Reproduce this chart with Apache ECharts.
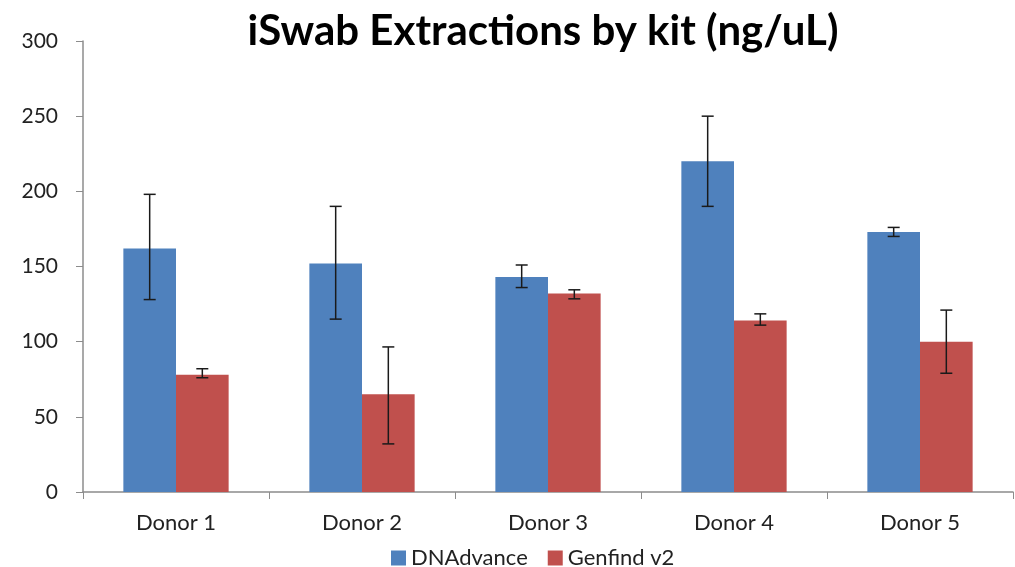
<!DOCTYPE html>
<html>
<head>
<meta charset="utf-8">
<script src="https://cdn.jsdelivr.net/npm/echarts@6/dist/echarts.min.js"></script>
<style>
  html, body { margin: 0; padding: 0; background: #fff; }
  #main { width: 1015px; height: 567px; }
</style>
</head>
<body>
<div id="main"></div>
<script>
var donors = ['Donor 1', 'Donor 2', 'Donor 3', 'Donor 4', 'Donor 5'];
var dnaAdvance = [162, 152, 143, 220, 173];
var dnaAdvanceLow = [128, 115, 136, 190, 170];
var dnaAdvanceHigh = [198, 190, 151, 250, 176];
var genfind = [78, 65, 132, 114, 100];
var genfindLow = [76, 32, 128.5, 111, 79];
var genfindHigh = [82, 96.5, 134.5, 118.5, 121];

var BAR_RATIO = 0.283;
var FONT = 'Lato';

var Chart = echarts.init(document.getElementById('main'));

// error bar drawn at the centre of the bar of one series
function errorBars(low, high, side) {
  var data = low.map(function (l, i) { return [i, l, high[i]]; });
  return {
    type: 'custom',
    name: 'err' + side,
    z: 10,
    silent: true,
    data: data,
    renderItem: function (params, api) {
      var band = api.size([1, 0])[0];
      var off = side * band * BAR_RATIO / 2;
      var lo = api.coord([api.value(0), api.value(1)]);
      var hi = api.coord([api.value(0), api.value(2)]);
      var x = lo[0] + off;
      var cap = 6;
      var style = { stroke: '#1a1a1a', lineWidth: 1.5 };
      return {
        type: 'group',
        children: [
          { type: 'line', shape: { x1: x, y1: hi[1], x2: x, y2: lo[1] }, style: style },
          { type: 'line', shape: { x1: x - cap, y1: hi[1], x2: x + cap, y2: hi[1] }, style: style },
          { type: 'line', shape: { x1: x - cap, y1: lo[1], x2: x + cap, y2: lo[1] }, style: style }
        ]
      };
    }
  };
}

var option = {
  animation: false,
  title: {
    text: 'iSwab Extractions by kit (ng/uL)',
    left: 538,
    textAlign: 'center',
    top: 5,
    textStyle: { fontFamily: FONT, fontSize: 42, fontWeight: 'bold', color: '#000' }
  },
  legend: {
    data: ['DNAdvance', 'Genfind v2'],
    top: 542,
    left: 386,
    itemWidth: 15,
    itemHeight: 15,
    itemGap: 20,
    icon: 'rect',
    textStyle: { fontFamily: FONT, fontSize: 22, color: '#222' }
  },
  grid: { left: 83, right: 2, top: 41, bottom: 75 },
  xAxis: {
    type: 'category',
    data: donors,
    axisLine: { lineStyle: { color: '#8c8c8c', width: 1.5 } },
    axisTick: { show: true, length: 7, lineStyle: { color: '#8c8c8c' } },
    axisLabel: { fontFamily: FONT, fontSize: 22, color: '#222', margin: 20 }
  },
  yAxis: {
    type: 'value',
    min: 0,
    max: 300,
    interval: 50,
    splitLine: { show: false },
    axisLine: { show: true, lineStyle: { color: '#8c8c8c', width: 1.5 } },
    axisTick: { show: true, length: 7, lineStyle: { color: '#8c8c8c' } },
    axisLabel: { fontFamily: FONT, fontSize: 21, color: '#222', margin: 25 }
  },
  series: [
    {
      name: 'DNAdvance',
      type: 'bar',
      data: dnaAdvance,
      barWidth: (BAR_RATIO * 100) + '%',
      barGap: '0%',
      itemStyle: { color: '#4F81BD' }
    },
    {
      name: 'Genfind v2',
      type: 'bar',
      data: genfind,
      barWidth: (BAR_RATIO * 100) + '%',
      barGap: '0%',
      itemStyle: { color: '#C0504D' }
    },
    errorBars(dnaAdvanceLow, dnaAdvanceHigh, -1),
    errorBars(genfindLow, genfindHigh, 1)
  ]
};

Chart.setOption(option);
</script>
</body>
</html>
